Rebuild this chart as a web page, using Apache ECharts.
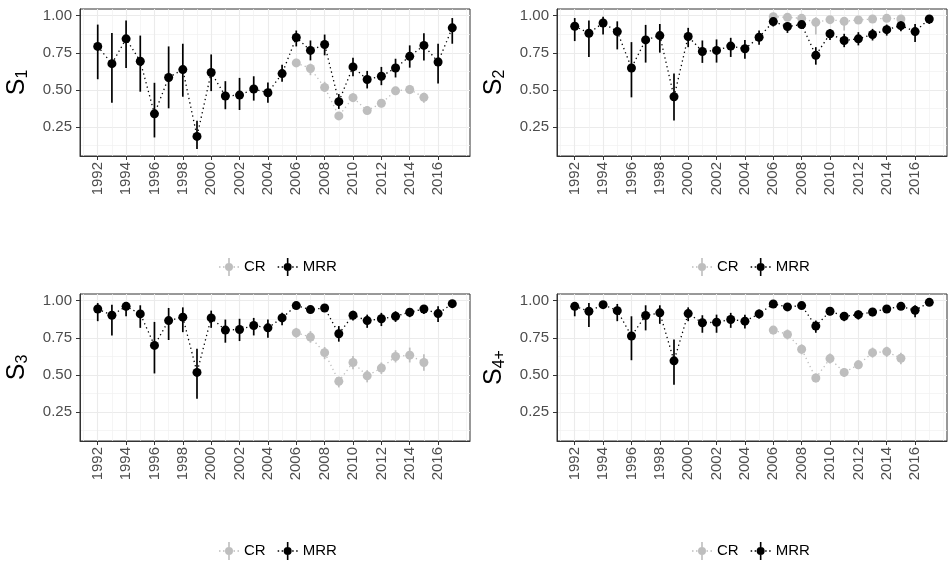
<!DOCTYPE html>
<html>
<head>
<meta charset="utf-8">
<script src="https://cdn.jsdelivr.net/npm/echarts@6/dist/echarts.min.js"></script>
<style>
html, body { margin: 0; padding: 0; background: #fff; }
#chart { width: 949px; height: 561px; }
</style>
</head>
<body>
<div id="chart"></div>
<script>
// years
var years = [1992, 1993, 1994, 1995, 1996, 1997, 1998, 1999, 2000, 2001, 2002, 2003, 2004,
             2005, 2006, 2007, 2008, 2009, 2010, 2011, 2012, 2013, 2014, 2015, 2016, 2017];
var crYears = [2006, 2007, 2008, 2009, 2010, 2011, 2012, 2013, 2014, 2015];

// axis breaks
var xMajor = [1992, 1994, 1996, 1998, 2000, 2002, 2004, 2006, 2008, 2010, 2012, 2014, 2016];
var xMinor = [1991, 1993, 1995, 1997, 1999, 2001, 2003, 2005, 2007, 2009, 2011, 2013, 2015, 2017, 2018];
var yMajor = [0.25, 0.5, 0.75, 1.0];
var yMinor = [0.125, 0.375, 0.625, 0.875];

// S1
var mrrS1   = [0.793, 0.677, 0.844, 0.693, 0.339, 0.584, 0.637, 0.187, 0.617, 0.459, 0.465, 0.506, 0.481,
               0.610, 0.853, 0.766, 0.806, 0.421, 0.655, 0.570, 0.592, 0.648, 0.726, 0.800, 0.688, 0.918];
var mrrS1Lo = [0.572, 0.414, 0.648, 0.488, 0.180, 0.376, 0.454, 0.102, 0.492, 0.370, 0.365, 0.428, 0.414,
               0.555, 0.793, 0.699, 0.733, 0.372, 0.592, 0.510, 0.532, 0.584, 0.650, 0.699, 0.543, 0.811];
var mrrS1Hi = [0.940, 0.884, 0.967, 0.866, 0.548, 0.793, 0.811, 0.292, 0.739, 0.559, 0.581, 0.592, 0.550,
               0.670, 0.900, 0.833, 0.873, 0.472, 0.717, 0.628, 0.655, 0.710, 0.800, 0.882, 0.811, 0.984];
var crS1    = [0.682, 0.644, 0.517, 0.325, 0.448, 0.361, 0.410, 0.494, 0.503, 0.450];
var crS1Lo  = [0.655, 0.599, 0.488, 0.303, 0.421, 0.336, 0.383, 0.465, 0.472, 0.414];
var crS1Hi  = [0.710, 0.677, 0.555, 0.347, 0.477, 0.388, 0.437, 0.521, 0.532, 0.481];

// S2
var mrrS2   = [0.929, 0.882, 0.951, 0.893, 0.648, 0.837, 0.866, 0.454, 0.860, 0.759, 0.766, 0.795, 0.777,
               0.855, 0.960, 0.927, 0.940, 0.733, 0.878, 0.833, 0.844, 0.873, 0.906, 0.933, 0.893, 0.978];
var mrrS2Lo = [0.829, 0.722, 0.873, 0.773, 0.450, 0.684, 0.751, 0.294, 0.788, 0.682, 0.684, 0.722, 0.710,
               0.804, 0.927, 0.884, 0.911, 0.670, 0.837, 0.788, 0.800, 0.833, 0.866, 0.895, 0.822, 0.944];
var mrrS2Hi = [0.984, 0.967, 0.993, 0.962, 0.822, 0.938, 0.944, 0.610, 0.918, 0.833, 0.840, 0.851, 0.837,
               0.900, 0.978, 0.955, 0.962, 0.788, 0.911, 0.878, 0.889, 0.911, 0.940, 0.962, 0.944, 1.000];
var crS2    = [0.993, 0.989, 0.982, 0.955, 0.973, 0.962, 0.971, 0.978, 0.982, 0.978];
var crS2Lo  = [0.978, 0.971, 0.962, 0.873, 0.951, 0.900, 0.944, 0.955, 0.958, 0.958];
var crS2Hi  = [1.000, 0.998, 0.996, 0.989, 0.991, 0.989, 0.993, 0.993, 0.993, 0.993];

// S3
var mrrS3   = [0.944, 0.902, 0.962, 0.911, 0.699, 0.866, 0.889, 0.517, 0.884, 0.802, 0.806, 0.833, 0.817,
               0.884, 0.967, 0.940, 0.951, 0.777, 0.902, 0.866, 0.878, 0.895, 0.922, 0.944, 0.913, 0.980];
var mrrS3Lo = [0.862, 0.766, 0.895, 0.817, 0.510, 0.735, 0.788, 0.339, 0.817, 0.717, 0.728, 0.766, 0.751,
               0.835, 0.947, 0.918, 0.927, 0.724, 0.866, 0.817, 0.829, 0.857, 0.889, 0.911, 0.857, 0.955];
var mrrS3Hi = [0.984, 0.973, 0.991, 0.969, 0.857, 0.951, 0.955, 0.677, 0.933, 0.873, 0.878, 0.884, 0.873,
               0.918, 0.980, 0.962, 0.973, 0.829, 0.933, 0.906, 0.918, 0.929, 0.951, 0.969, 0.962, 1.000];
var crS3    = [0.784, 0.755, 0.650, 0.457, 0.584, 0.494, 0.546, 0.624, 0.633, 0.584];
var crS3Lo  = [0.751, 0.717, 0.606, 0.416, 0.539, 0.450, 0.506, 0.584, 0.584, 0.528];
var crS3Hi  = [0.817, 0.795, 0.688, 0.488, 0.628, 0.532, 0.584, 0.666, 0.684, 0.639];

// S4+
var mrrS4   = [0.962, 0.929, 0.973, 0.933, 0.762, 0.900, 0.918, 0.595, 0.913, 0.851, 0.855, 0.873, 0.862,
               0.911, 0.978, 0.958, 0.967, 0.829, 0.929, 0.895, 0.906, 0.924, 0.944, 0.962, 0.935, 0.989];
var mrrS4Lo = [0.895, 0.822, 0.951, 0.862, 0.599, 0.800, 0.844, 0.434, 0.862, 0.784, 0.784, 0.817, 0.813,
               0.880, 0.965, 0.935, 0.947, 0.784, 0.902, 0.862, 0.873, 0.895, 0.918, 0.938, 0.889, 0.969];
var mrrS4Hi = [0.991, 0.984, 0.993, 0.978, 0.895, 0.969, 0.969, 0.739, 0.955, 0.902, 0.906, 0.918, 0.906,
               0.940, 0.991, 0.978, 0.984, 0.866, 0.951, 0.924, 0.935, 0.951, 0.969, 0.984, 0.969, 1.000];
var crS4    = [0.802, 0.773, 0.673, 0.479, 0.610, 0.517, 0.568, 0.650, 0.657, 0.612];
var crS4Lo  = [0.773, 0.739, 0.639, 0.450, 0.577, 0.488, 0.539, 0.617, 0.621, 0.572];
var crS4Hi  = [0.829, 0.806, 0.706, 0.510, 0.644, 0.546, 0.599, 0.684, 0.690, 0.650];

var panels = [
    { title: '{s|S}{sub|1}',  mrr: mrrS1, mrrLo: mrrS1Lo, mrrHi: mrrS1Hi, cr: crS1, crLo: crS1Lo, crHi: crS1Hi },
    { title: '{s|S}{sub|2}',  mrr: mrrS2, mrrLo: mrrS2Lo, mrrHi: mrrS2Hi, cr: crS2, crLo: crS2Lo, crHi: crS2Hi },
    { title: '{s|S}{sub|3}',  mrr: mrrS3, mrrLo: mrrS3Lo, mrrHi: mrrS3Hi, cr: crS3, crLo: crS3Lo, crHi: crS3Hi },
    { title: '{s|S}{sub|4+}', mrr: mrrS4, mrrLo: mrrS4Lo, mrrHi: mrrS4Hi, cr: crS4, crLo: crS4Lo, crHi: crS4Hi }
];

// layout
var boxes = [
    { left: 80,  top: 9,   legendLeft: 214, legendTop: 253 },
    { left: 557, top: 9,   legendLeft: 687, legendTop: 253 },
    { left: 80,  top: 294, legendLeft: 214, legendTop: 537 },
    { left: 557, top: 294, legendLeft: 687, legendTop: 537 }
];
var W = 390, H = 147;
var FONT = '"Liberation Sans", Arial, sans-serif';
var GREY = '#bebebe', BLACK = '#000000';
var ICON = 'path://M0 8.3h1.5v1.4h-1.5z M4 8.3h1.5v1.4h-1.5z M14.5 8.3h1.5v1.4h-1.5z M18.5 8.3h1.5v1.4h-1.5z ' +
           'M9.2 0h1.6v18h-1.6z M6 9a4 4 0 1 1 8 0a4 4 0 1 1 -8 0z';

function pairs(xs, ys) { return xs.map(function (x, i) { return [x, ys[i]]; }); }
function ranges(xs, lo, hi) { return xs.map(function (x, i) { return [x, lo[i], hi[i]]; }); }

function errorBar(color) {
    return function (params, api) {
        var a = api.coord([api.value(0), api.value(1)]);
        var b = api.coord([api.value(0), api.value(2)]);
        return {
            type: 'line',
            shape: { x1: a[0], y1: a[1], x2: b[0], y2: b[1] },
            style: { stroke: color, lineWidth: 1.7 }
        };
    };
}

var grids = [], xAxes = [], yAxes = [], series = [], legends = [];

panels.forEach(function (p, i) {
    var b = boxes[i];
    grids.push({
        left: b.left, top: b.top, width: W, height: H,
        show: true, backgroundColor: '#fff', borderColor: '#333', borderWidth: 1
    });

    // main x axis
    xAxes.push({
        type: 'value', gridIndex: i, min: 1990.75, max: 2018.25,
        axisLine: { show: true, onZero: false, lineStyle: { color: '#333' } },
        axisTick: { show: true, length: 4, customValues: xMajor, lineStyle: { color: '#333' } },
        axisLabel: {
            customValues: xMajor, rotate: 90, margin: 6, fontSize: 15, color: '#4d4d4d', fontFamily: FONT,
            formatter: function (v) { return String(v); }
        },
        splitLine: { show: true, lineStyle: { color: '#ebebeb', width: 1.1 } }
    });
    // minor grid x
    xAxes.push({
        type: 'value', gridIndex: i, min: 1990.75, max: 2018.25, position: 'bottom',
        axisLine: { show: false }, axisTick: { show: false, customValues: xMinor },
        axisLabel: { show: false, customValues: xMinor },
        splitLine: { show: true, lineStyle: { color: '#f0f0f0', width: 0.7 } }
    });

    yAxes.push({
        type: 'value', gridIndex: i, min: 0.055, max: 1.045,
        name: p.title, nameLocation: 'middle', nameRotate: 90, nameGap: 49,
        nameTextStyle: {
            fontFamily: FONT, color: '#000',
            rich: {
                s: { fontSize: 25, fontFamily: FONT, color: '#000', lineHeight: 28 },
                sub: { fontSize: 16, fontFamily: FONT, color: '#000', verticalAlign: 'bottom', lineHeight: 16 }
            }
        },
        axisLine: { show: true, onZero: false, lineStyle: { color: '#333' } },
        axisTick: { show: true, length: 4, customValues: yMajor, lineStyle: { color: '#333' } },
        axisLabel: {
            customValues: yMajor, margin: 8, fontSize: 15, color: '#4d4d4d', fontFamily: FONT,
            formatter: function (v) { return v.toFixed(2); }
        },
        splitLine: { show: true, lineStyle: { color: '#ebebeb', width: 1.1 } }
    });
    yAxes.push({
        type: 'value', gridIndex: i, min: 0.055, max: 1.045, position: 'left',
        axisLine: { show: false }, axisTick: { show: false, customValues: yMinor },
        axisLabel: { show: false, customValues: yMinor },
        splitLine: { show: true, lineStyle: { color: '#f0f0f0', width: 0.7 } }
    });

    var xi = 2 * i, yi = 2 * i;
    [
        { name: 'CR', color: GREY, xs: crYears, v: p.cr, lo: p.crLo, hi: p.crHi, z: 2 },
        { name: 'MRR', color: BLACK, xs: years, v: p.mrr, lo: p.mrrLo, hi: p.mrrHi, z: 3 }
    ].forEach(function (s) {
        series.push({
            type: 'line', name: s.name, xAxisIndex: xi, yAxisIndex: yi, z: s.z,
            data: pairs(s.xs, s.v), symbol: 'none', silent: true,
            itemStyle: { color: s.color },
            lineStyle: { color: s.color, width: 1.3, type: [1.3, 3.2] }
        });
        series.push({
            type: 'custom', name: s.name, xAxisIndex: xi, yAxisIndex: yi, z: s.z,
            data: ranges(s.xs, s.lo, s.hi), encode: { x: 0, y: [1, 2] },
            itemStyle: { color: s.color }, renderItem: errorBar(s.color), silent: true
        });
        series.push({
            type: 'scatter', name: s.name, xAxisIndex: xi, yAxisIndex: yi, z: s.z,
            data: pairs(s.xs, s.v), symbol: 'circle', symbolSize: 9,
            itemStyle: { color: s.color, opacity: 1 }, silent: true
        });
    });

    legends.push({
        left: b.legendLeft, top: b.legendTop, orient: 'horizontal',
        itemWidth: 20, itemHeight: 18, itemGap: 12, selectedMode: false,
        data: [{ name: 'CR', icon: ICON }, { name: 'MRR', icon: ICON }],
        textStyle: { fontSize: 15, color: '#000', fontFamily: FONT }
    });
});

var chart = echarts.init(document.getElementById('chart'), null, { renderer: 'canvas' });
chart.setOption({
    backgroundColor: '#fff',
    animation: false,
    grid: grids,
    xAxis: xAxes,
    yAxis: yAxes,
    legend: legends,
    series: series
});
</script>
</body>
</html>
